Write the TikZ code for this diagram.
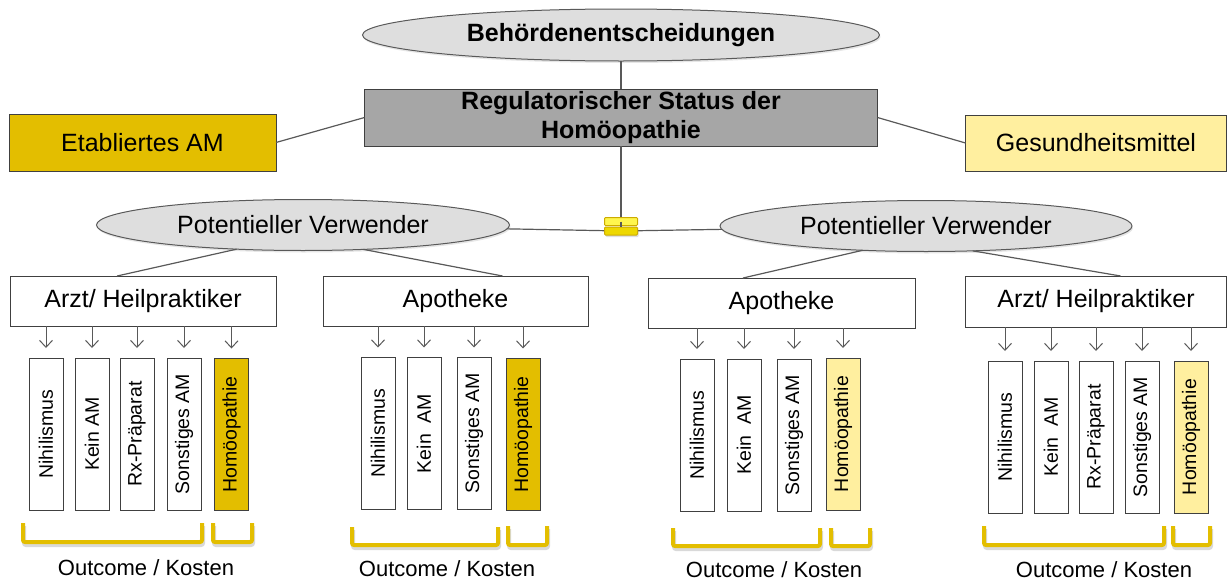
\documentclass[tikz,border=0pt]{standalone}
\usepackage{fontspec}
\setmainfont{Liberation Sans}
\usetikzlibrary{arrows.meta,shapes.geometric,shadows}

\definecolor{dunkelgelb}{HTML}{E3BE00}
\definecolor{hellgelb}{HTML}{FFEF9F}
\definecolor{statusgrau}{HTML}{A6A6A6}
\definecolor{ovalgrau}{HTML}{DEDEDE}
\definecolor{linie}{HTML}{595959}
\definecolor{rand}{HTML}{404040}

\tikzset{
  gross/.style = {font=\fontsize{25}{29}\selectfont},
  kasten/.style = {draw=rand, line width=1pt, inner sep=0pt, outer sep=0pt, gross},
  oval/.style = {ellipse, draw=linie, fill=ovalgrau, line width=1pt, inner sep=0pt, outer sep=0pt, gross,
    drop shadow={opacity=0.2, shadow xshift=1pt, shadow yshift=-2pt}},
  saeule/.style = {draw=rand, line width=1pt, rotate=90, minimum width=152pt, minimum height=34pt,
    inner sep=0pt, outer sep=0pt, font=\fontsize{19.5}{23}\selectfont},
  pfeil/.style = {draw=linie, line width=1pt, -{Straight Barb[length=7pt,width=13pt]}, shorten >=10pt},
  verbinder/.style = {draw=linie, line width=1.2pt},
  klammer/.style = {draw=dunkelgelb, line width=4pt, rounded corners=2pt},
  klammerschatten/.style = {draw=black, opacity=0.15, line width=4pt, rounded corners=2pt, xshift=1pt, yshift=-3pt},
  gleichbalken/.style = {draw=dunkelgelb!90!black, line width=1pt, minimum width=33pt, minimum height=8pt,
    inner sep=0pt, outer sep=0pt, rounded corners=1pt},
  ergebnis/.style = {font=\fontsize{22}{26}\selectfont}
}

\begin{document}
\begin{tikzpicture}[x = 1pt, y = -1pt]
\useasboundingbox (0, 0) rectangle (1227, 581);

% oberer Teil
\node[oval, minimum width = 517pt, minimum height = 52pt, font = \fontsize{25}{29}\selectfont\bfseries] (behoerde) at (621, 35) {Behördenentscheidungen};
\node[kasten, fill = statusgrau, minimum width = 513pt, minimum height = 57pt, align = center, font = \fontsize{25}{29}\selectfont\bfseries] (status) at (621, 117.5) {Regulatorischer Status der\\Homöopathie};
\node[kasten, fill = dunkelgelb, minimum width = 267pt, minimum height = 57pt] (etabAM) at (142.5, 142.5) {Etabliertes AM};
\node[kasten, fill = hellgelb, minimum width = 261pt, minimum height = 56pt] (gesMittel) at (1096, 143) {Gesundheitsmittel};

\coordinate (gleich) at (621, 231);

\draw[verbinder] (behoerde) -- (status);
\draw[verbinder] (etabAM.east) -- (status.west);
\draw[verbinder] (status.east) -- (gesMittel.west);
\draw[verbinder] (status) -- (gleich);

% Verwender
\node[oval, minimum width = 413pt, minimum height = 51pt] (verwL) at (303, 225) {Potentieller Verwender};
\node[oval, minimum width = 412pt, minimum height = 51pt] (verwR) at (926, 226) {Potentieller Verwender};

\draw[verbinder] (verwL) -- (gleich) -- (verwR);

\node[gleichbalken, fill = yellow!70!white] (gleichO) at (621, 221.5) {};
\node[gleichbalken, fill = dunkelgelb!60!yellow, drop shadow = {opacity = 0.25, shadow xshift = 1pt, shadow yshift = -2pt}] (gleichU) at (621, 231) {};
\draw[verbinder] (gleichO.center) -- (gleichU.north);

\node[kasten, minimum width = 266pt, minimum height = 50pt] (arztL) at (143, 301) {Arzt/ Heilpraktiker};
\node[kasten, minimum width = 265pt, minimum height = 50pt] (apoL) at (455.5, 301) {Apotheke};
\node[kasten, minimum width = 267pt, minimum height = 50pt] (apoR) at (781.5, 303) {Apotheke};
\node[kasten, minimum width = 261pt, minimum height = 51pt] (arztR) at (1096, 301.5) {Arzt/ Heilpraktiker};

\draw[verbinder] (verwL.200) -- (arztL.136);
\draw[verbinder] (verwL.338) -- (apoL.28);
\draw[verbinder] (verwR.201) -- (apoR.147);
\draw[verbinder] (verwR.332) -- (arztR.46);

% Arzt links
\node[saeule] (nihL1) at (46, 434) {Nihilismus};
\node[saeule] (keinL1) at (92, 434) {Kein AM};
\node[saeule] (rxL1) at (137, 434) {Rx-Präparat};
\node[saeule] (sonstL1) at (184, 434) {Sonstiges AM};
\node[saeule, fill = dunkelgelb] (homL1) at (231.5, 434.5) {Homöopathie};

\draw[pfeil] (arztL.south -| nihL1) -- (nihL1);
\draw[pfeil] (arztL.south -| keinL1) -- (keinL1);
\draw[pfeil] (arztL.south -| rxL1) -- (rxL1);
\draw[pfeil] (arztL.south -| sonstL1) -- (sonstL1);
\draw[pfeil] (arztL.south -| homL1) -- (homL1);

% Apotheke links
\node[saeule] (nihL2) at (378, 433.5) {Nihilismus};
\node[saeule] (keinL2) at (424, 433.5) {Kein\ \ AM};
\node[saeule] (sonstL2) at (474, 433.5) {Sonstiges AM};
\node[saeule, fill = dunkelgelb] (homL2) at (523, 434.5) {Homöopathie};

\draw[pfeil] (apoL.south -| nihL2) -- (nihL2);
\draw[pfeil] (apoL.south -| keinL2) -- (keinL2);
\draw[pfeil] (apoL.south -| sonstL2) -- (sonstL2);
\draw[pfeil] (apoL.south -| homL2) -- (homL2);

% Apotheke rechts
\node[saeule] (nihR1) at (697, 435) {Nihilismus};
\node[saeule] (keinR1) at (744, 435) {Kein\ \ AM};
\node[saeule] (sonstR1) at (794, 435) {Sonstiges AM};
\node[saeule, fill = hellgelb] (homR1) at (843, 434) {Homöopathie};

\draw[pfeil] (apoR.south -| nihR1) -- (nihR1);
\draw[pfeil] (apoR.south -| keinR1) -- (keinR1);
\draw[pfeil] (apoR.south -| sonstR1) -- (sonstR1);
\draw[pfeil] (apoR.south -| homR1) -- (homR1);

% Arzt rechts
\node[saeule] (nihR2) at (1005, 437) {Nihilismus};
\node[saeule] (keinR2) at (1051, 437) {Kein\ \ AM};
\node[saeule] (rxR2) at (1096, 437) {Rx-Präparat};
\node[saeule] (sonstR2) at (1142, 437) {Sonstiges AM};
\node[saeule, fill = hellgelb] (homR2) at (1191, 437) {Homöopathie};

\draw[pfeil] (arztR.south -| nihR2) -- (nihR2);
\draw[pfeil] (arztR.south -| keinR2) -- (keinR2);
\draw[pfeil] (arztR.south -| rxR2) -- (rxR2);
\draw[pfeil] (arztR.south -| sonstR2) -- (sonstR2);
\draw[pfeil] (arztR.south -| homR2) -- (homR2);

% Klammern
\draw[klammerschatten] (23, 523) -- (23, 542) -- (202, 542) -- (202, 523);
\draw[klammerschatten] (213, 523) -- (213, 542) -- (252, 542) -- (252, 523);
\draw[klammerschatten] (352, 527) -- (352, 545) -- (498, 545) -- (498, 527);
\draw[klammerschatten] (508, 526) -- (508, 545) -- (547, 545) -- (547, 526);
\draw[klammerschatten] (673, 528) -- (673, 546) -- (820, 546) -- (820, 528);
\draw[klammerschatten] (831, 528) -- (831, 546) -- (870, 546) -- (870, 528);
\draw[klammerschatten] (984, 526) -- (984, 545) -- (1164, 545) -- (1164, 526);
\draw[klammerschatten] (1173, 526) -- (1173, 545) -- (1210, 545) -- (1210, 526);

\draw[klammer] (23, 523) -- (23, 542) -- (202, 542) -- (202, 523);
\draw[klammer] (213, 523) -- (213, 542) -- (252, 542) -- (252, 523);
\draw[klammer] (352, 527) -- (352, 545) -- (498, 545) -- (498, 527);
\draw[klammer] (508, 526) -- (508, 545) -- (547, 545) -- (547, 526);
\draw[klammer] (673, 528) -- (673, 546) -- (820, 546) -- (820, 528);
\draw[klammer] (831, 528) -- (831, 546) -- (870, 546) -- (870, 528);
\draw[klammer] (984, 526) -- (984, 545) -- (1164, 545) -- (1164, 526);
\draw[klammer] (1173, 526) -- (1173, 545) -- (1210, 545) -- (1210, 526);

\node[ergebnis] (kostenL1) at (146, 568) {Outcome / Kosten};
\node[ergebnis] (kostenL2) at (447, 569) {Outcome / Kosten};
\node[ergebnis] (kostenR1) at (774, 570) {Outcome / Kosten};
\node[ergebnis] (kostenR2) at (1104, 570) {Outcome / Kosten};

\end{tikzpicture}
\end{document}
